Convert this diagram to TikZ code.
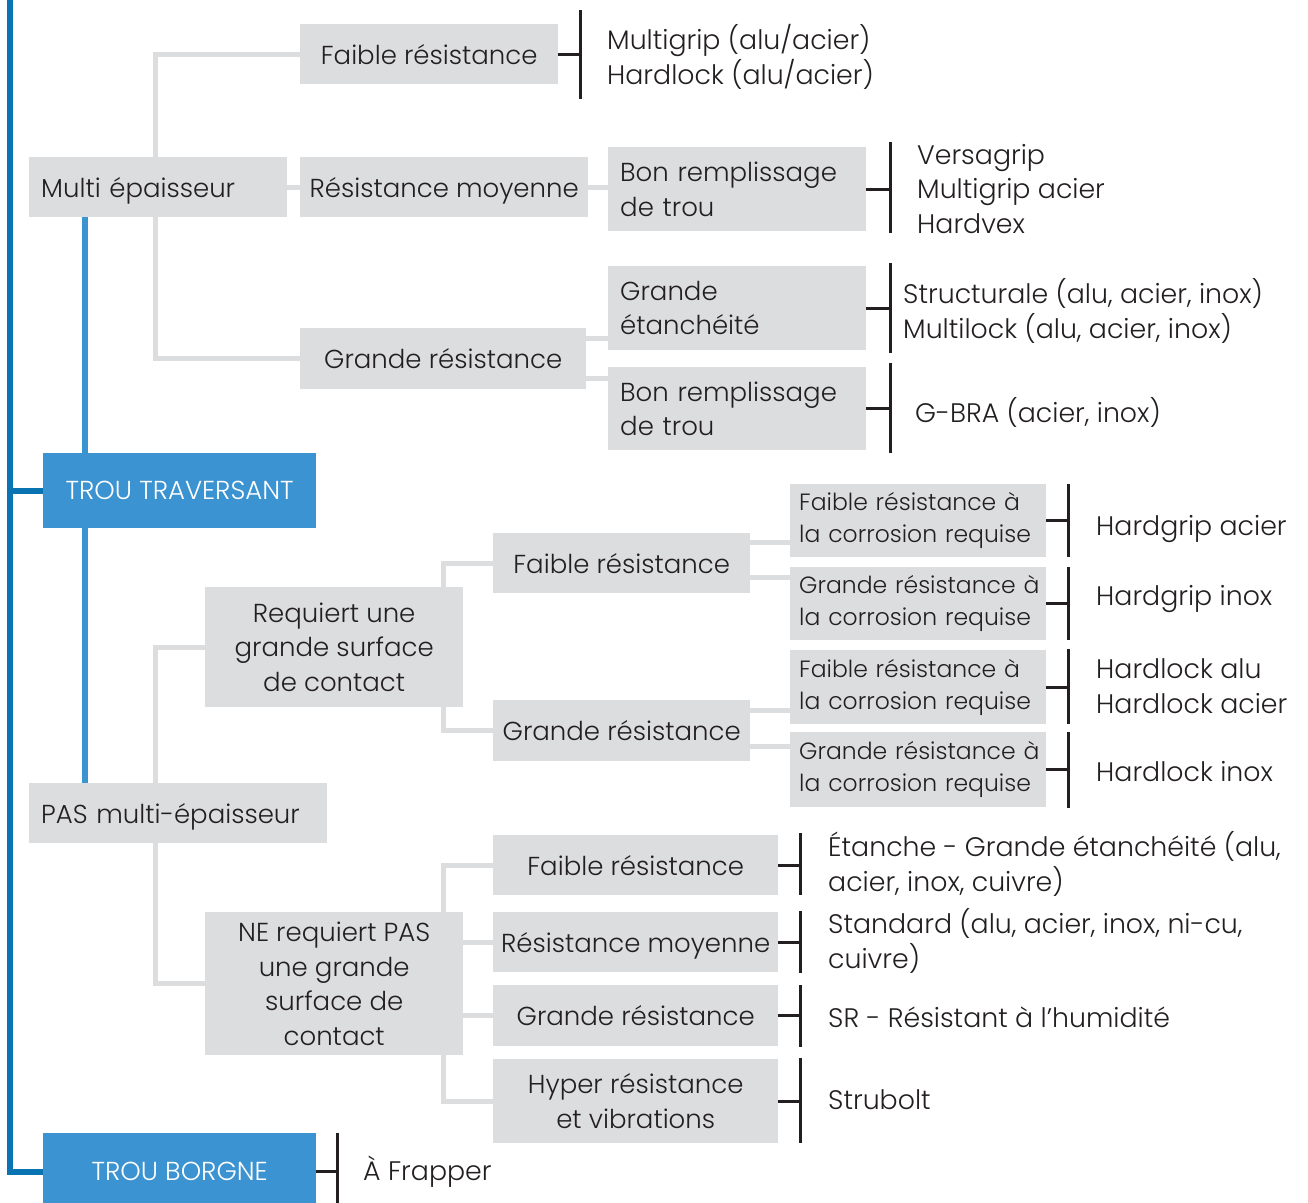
\documentclass[tikz,border=0pt]{standalone}
\usepackage{fontspec}
\setmainfont{Poppins Light}
\hyphenpenalty=10000
\exhyphenpenalty=10000
\definecolor{cellgray}{HTML}{DCDDDE}
\definecolor{linkgray}{HTML}{DCDDDE}
\definecolor{ink}{HTML}{231F20}
\definecolor{tagblue}{HTML}{3C93D1}
\definecolor{spineblue}{HTML}{0A73B2}
\tikzset{
  cell/.style={fill=cellgray, text=ink, anchor=north west, inner xsep=12pt, inner ysep=0pt,
    font=\fontsize{26}{34.5}\selectfont},
  lcell/.style={cell, align=left},
  ccell/.style={cell, align=center, inner xsep=4pt},
  corr/.style={cell, align=left, inner xsep=9pt, text width=238pt, minimum height=#1,
    font=\fontsize{23.5}{32}\selectfont},
  tag/.style={fill=tagblue, text=white, anchor=north west, align=center, inner sep=0pt,
    font=\fontsize{26}{30}\selectfont},
  result/.style={anchor=west, align=left, text=ink, inner sep=0pt,
    font=\fontsize{26.8}{34.5}\selectfont},
  link/.style={draw=linkgray, line width=5pt},
  bracket/.style={draw=ink, line width=3pt},
  spine/.style={draw=spineblue, line width=6pt},
  stem/.style={draw=tagblue, line width=6pt}
}
\begin{document}
\begin{tikzpicture}[x=1pt,y=-1pt]
\useasboundingbox (0,0) rectangle (1308,1202);

% trou traversant, multi epaisseur
\node[lcell, text width=234pt, minimum height=60pt, text depth=0pt] (multi) at (29,157) {Multi épaisseur};
\node[ccell, minimum width=258pt, minimum height=60pt] (fr1) at (300,24) {Faible résistance};
\node[ccell, minimum width=288pt, minimum height=60pt, text depth=0pt] (rm1) at (300,157) {Résistance moyenne};
\node[ccell, minimum width=286pt, minimum height=61pt] (gr1) at (300,328) {Grande résistance};
\node[lcell, text width=234pt, minimum height=84pt] (br1) at (608,147) {Bon remplissage\\de trou};
\node[lcell, text width=234pt, minimum height=84pt] (ge) at (608,266) {Grande\\étanchéité};
\node[lcell, text width=234pt, minimum height=83pt] (br2) at (608,367) {Bon remplissage\\de trou};

\node[result] (mgrip) at (607,57) {Multigrip (alu/acier)\\Hardlock (alu/acier)};
\node[result] (vgrip) at (917,189) {Versagrip\\Multigrip acier\\Hardvex};
\node[result] (struct) at (903,311) {Structurale (alu, acier, inox)\\Multilock (alu, acier, inox)};
\node[result] (gbra) at (915,412) {G-BRA (acier, inox)};

% blocs bleus
\node[tag, minimum width=273pt, minimum height=75pt] (tt) at (43,453) {TROU TRAVERSANT};
\node[tag, minimum width=273pt, minimum height=77pt] (tb) at (43,1133) {TROU BORGNE};
\node[result] (frap) at (363,1172) {À Frapper};

% pas multi epaisseur
\node[lcell, text width=274pt, minimum height=60pt, text depth=0pt] (pas) at (29,783) {PAS multi-épaisseur};
\node[ccell, minimum width=258pt, minimum height=120pt] (req) at (205,587) {Requiert une\\grande surface\\de contact};
\node[ccell, minimum width=257pt, minimum height=60pt] (fr2) at (493,533) {Faible résistance};
\node[ccell, minimum width=257pt, minimum height=61pt] (gr2) at (493,700) {Grande résistance};
\node[corr=73pt] (c1) at (790,484) {Faible~résistance~à\\la~corrosion~requise};
\node[corr=73pt] (c2) at (790,567) {Grande~résistance~à\\la~corrosion~requise};
\node[corr=74pt] (c3) at (790,650) {Faible~résistance~à\\la~corrosion~requise};
\node[corr=75pt] (c4) at (790,732) {Grande~résistance~à\\la~corrosion~requise};

\node[result] (hgacier) at (1096,529) {Hardgrip acier};
\node[result] (hginox) at (1096,599) {Hardgrip inox};
\node[result] (hlalu) at (1096,686) {Hardlock alu\\Hardlock acier};
\node[result] (hlinox) at (1096,772) {Hardlock inox};

\node[ccell, minimum width=258pt, minimum height=143pt] (ne) at (205,912) {NE requiert PAS\\une grande\\surface de\\contact};
\node[ccell, minimum width=285pt, minimum height=60pt] (fr3) at (493,835) {Faible résistance};
\node[ccell, minimum width=285pt, minimum height=60pt, text depth=0pt] (rm3) at (493,912) {Résistance moyenne};
\node[ccell, minimum width=285pt, minimum height=61pt] (gr3) at (493,985) {Grande résistance};
\node[ccell, minimum width=285pt, minimum height=84pt] (hy) at (493,1059) {Hyper résistance\\et vibrations};

\node[result] (etan) at (828,864) {Étanche - Grande étanchéité (alu,\\acier, inox, cuivre)};
\node[result] (std) at (828,941) {Standard (alu, acier, inox, ni-cu,\\cuivre)};
\node[result] (sr) at (828,1017) {SR - Résistant à l’humidité};
\node[result] (strub) at (828,1100) {Strubolt};

% liaisons grises
\draw[link] (multi.north -| 155,0) |- (fr1.west);
\draw[link] (multi.south -| 155,0) |- (gr1.west);
\draw[link] (multi.east) -- (rm1.west);
\draw[link] (rm1.east) -- (rm1.east -| br1.west);
\draw[link] ([yshift=20pt]gr1.east) -- ([yshift=20pt]gr1.east -| ge.west);
\draw[link] ([yshift=-20pt]gr1.east) -- ([yshift=-20pt]gr1.east -| br2.west);
\draw[link] (pas.north -| 155,0) |- (req.west);
\draw[link] (pas.south -| 155,0) |- (ne.west);
\draw[link] (req.north -| 443,0) |- (fr2.west);
\draw[link] (req.south -| 443,0) |- (gr2.west);
\draw[link] ([yshift=21pt]fr2.east) -- ([yshift=21pt]fr2.east -| c1.west);
\draw[link] ([yshift=-14pt]fr2.east) -- ([yshift=-14pt]fr2.east -| c2.west);
\draw[link] ([yshift=20pt]gr2.east) -- ([yshift=20pt]gr2.east -| c3.west);
\draw[link] ([yshift=-16pt]gr2.east) -- ([yshift=-16pt]gr2.east -| c4.west);
\draw[link] (ne.north -| 443,0) |- (fr3.west);
\draw[link] (rm3.west -| ne.east) -- (rm3.west);
\draw[link] (gr3.west -| ne.east) -- (gr3.west);
\draw[link] (ne.south -| 443,0) |- (hy.west);

% liaisons bleues
\draw[stem] (multi.south -| 85,0) -- (tt.north -| 85,0);
\draw[stem] (tt.south -| 85,0) -- (pas.north -| 85,0);
\draw[spine] (10,-5) |- (tb.west);
\draw[spine] (tt.west) -- (tt.west -| 10,0);

% accolades
\foreach \n/\xb/\ya/\yb in {fr1/580/10/99, br1/890/142/233, ge/890/263/353, br2/890/363/453,
    c1/1068/484/557, c2/1068/567/640, c3/1068/649/724, c4/1068/732/808,
    fr3/800/833/895, rm3/800/911/973, gr3/800/985/1047, hy/800/1058/1143, tb/337/1133/1210}
  \draw[bracket] (\n.east) -- (\n.east -| \xb,0) (\xb,\ya) -- (\xb,\yb);
\end{tikzpicture}
\end{document}
